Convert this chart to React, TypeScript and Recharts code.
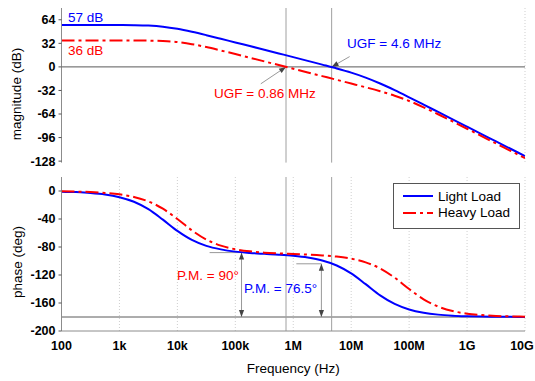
import React from 'react';
import { LineChart, Line, XAxis, YAxis, CartesianGrid, ReferenceLine, Legend } from 'recharts';

// frequency points, quarter decade apart (Hz)
const freqHz = [
  100, 177.8, 316.2, 562.3,
  1e3, 1778, 3162, 5623,
  1e4, 17783, 31623, 56234,
  1e5, 177828, 316228, 562341,
  1e6, 1.778e6, 3.162e6, 5.623e6,
  1e7, 1.778e7, 3.162e7, 5.623e7,
  1e8, 1.778e8, 3.162e8, 5.623e8,
  1e9, 1.778e9, 3.162e9, 5.623e9,
  1e10,
];

// values
const lightMagDb = [
  57.0, 57.0, 57.0, 57.0, 56.9, 56.7, 56.1, 54.6, 51.7, 47.7, 43.1, 38.2, 33.2, 28.3, 23.3, 18.3,
  13.3, 8.2, 3.1, -2.1, -7.8, -14.5, -22.5, -31.6, -41.3, -51.2, -61.2, -71.2, -81.2, -91.2, -101.2, -111.2, -121.2,
];
const heavyMagDb = [
  36.0, 36.0, 36.0, 36.0, 36.0, 35.9, 35.7, 35.1, 33.7, 30.9, 26.9, 22.3, 17.5, 12.5, 7.5, 2.5,
  -2.5, -7.5, -12.5, -17.5, -22.6, -27.7, -33.1, -39.1, -46.3, -54.9, -64.3, -74.1, -84.0, -94.0, -104.0, -114.0, -124.0,
];
const lightPhaseDeg = [
  -0.9, -1.6, -2.8, -4.9, -8.8, -15.3, -25.9, -40.9, -57.0, -69.9, -78.4, -83.4, -86.6, -88.5, -89.8, -91.0,
  -92.6, -95.1, -99.3, -106.4, -117.7, -133.1, -149.0, -161.3, -169.2, -173.9, -176.6, -178.1, -178.9, -179.4, -179.7, -179.8, -179.9,
];
const heavyPhaseDeg = [
  -0.5, -0.9, -1.5, -2.7, -4.8, -8.5, -14.9, -25.3, -40.0, -56.2, -69.4, -78.1, -83.2, -86.2, -88.1, -89.2,
  -90.0, -90.8, -92.0, -93.7, -96.7, -101.9, -110.6, -123.8, -140.0, -154.7, -165.1, -171.5, -175.2, -177.3, -178.5, -179.1, -179.5,
];

const seriesNames = ['Light Load', 'Heavy Load'];
const decadeTicks = [1e2, 1e3, 1e4, 1e5, 1e6, 1e7, 1e8, 1e9, 1e10];
const decadeLabels = ['100', '1k', '10k', '100k', '1M', '10M', '100M', '1G', '10G'];
const minorTicks = decadeTicks.slice(0, -1).flatMap((d) => [2, 3, 4, 5, 6, 7, 8, 9].map((m) => d * m));
const magTicks = [64, 32, 0, -32, -64, -96, -128];
const magMinor = [48, 16, -16, -48, -80, -112];
const phaseTicks = [0, -40, -80, -120, -160, -200];
const phaseMinor = [-20, -60, -100, -140, -180];

const ugfLight = 4.6e6;
const ugfHeavy = 7.5e5;

const data = freqHz.map((f, i) => ({
  f,
  lightMag: lightMagDb[i],
  heavyMag: heavyMagDb[i],
  lightPhase: lightPhaseDeg[i],
  heavyPhase: heavyPhaseDeg[i],
}));

const BLUE = '#0000ff';
const RED = '#ff0000';
const AXIS = '#8c8c8c';
const TICK = '#555';
const ZERO = '#5a5a5a';
const GUIDE = '#a0a0a0';
const GRID = '#cfcfcf';
const FONT = '"Liberation Sans", Arial, sans-serif';
const RED_DASH = '13 4 3 4';

const tickStyle = { fontSize: 12.5, fontWeight: 'bold', fill: '#000', fontFamily: FONT };

// bottom tick labels; last one nudged in so it stays on the page
const FreqTick = (props: any) => {
  const { x, y, payload } = props;
  const i = decadeTicks.indexOf(payload.value);
  if (i < 0) return null;
  const last = i === decadeTicks.length - 1;
  return (
    <text x={x} y={y} dy="0.71em" dx={last ? -3 : 0} textAnchor="middle" {...tickStyle}>
      {decadeLabels[i]}
    </text>
  );
};

// arrow drawn along a reference segment
const arrowShape = (both: boolean) => (p: any) => {
  const { x1, y1, x2, y2 } = p;
  const len = Math.hypot(x2 - x1, y2 - y1) || 1;
  const ux = (x2 - x1) / len;
  const uy = (y2 - y1) / len;
  const head = (x: number, y: number, sx: number, sy: number) => {
    const L = 7, H = 2.6;
    const bx = x - sx * L, by = y - sy * L;
    return `${x},${y} ${bx - sy * H},${by + sx * H} ${bx + sy * H},${by - sx * H}`;
  };
  return (
    <g>
      <line x1={x1} y1={y1} x2={x2} y2={y2} stroke="#999" strokeWidth={1} />
      <polygon points={head(x2, y2, ux, uy)} fill="#444" />
      {both && <polygon points={head(x1, y1, -ux, -uy)} fill="#444" />}
    </g>
  );
};

// inward ticks on top and bottom frame
function frameAxes() {
  const common: any = {
    dataKey: 'f', type: 'number', scale: 'log', domain: [1e2, 1e10], allowDataOverflow: true,
    mirror: true, height: 0, tick: false, axisLine: false, tickLine: { stroke: TICK },
  };
  return [
    <XAxis key="tM" {...common} xAxisId="tM" orientation="top" ticks={decadeTicks} tickSize={5} axisLine={{ stroke: AXIS }} />,
    <XAxis key="tm" {...common} xAxisId="tm" orientation="top" ticks={minorTicks} tickSize={2.5} />,
    <XAxis key="bM" {...common} xAxisId="bM" orientation="bottom" ticks={decadeTicks} tickSize={5} />,
    <XAxis key="bm" {...common} xAxisId="bm" orientation="bottom" ticks={minorTicks} tickSize={2.5} />,
  ];
}

const legendContent = (props: any) => {
  const items = [...(props.payload || [])].sort((a: any, b: any) => seriesNames.indexOf(a.value) - seriesNames.indexOf(b.value));
  return (
    <div style={{ border: '1px solid #555', background: '#fff', width: 125, height: 40, paddingTop: 4, boxSizing: 'content-box', fontFamily: FONT, fontSize: 13.5 }}>
      {items.map((e: any) => (
        <div key={e.value} style={{ display: 'flex', alignItems: 'center', height: 16.6 }}>
          <svg width={44} height={8} style={{ flex: 'none' }}>
            <line x1={9} y1={4} x2={39} y2={4} stroke={e.color} strokeWidth={2} strokeDasharray={e.payload?.strokeDasharray} />
          </svg>
          <span style={{ color: '#000' }}>{e.value}</span>
        </div>
      ))}
    </div>
  );
};

const textBase = { fontFamily: FONT, fontSize: 13.5, dominantBaseline: 'central' as const };

export default function App() {
  return (
    <div style={{ position: 'absolute', left: 0, top: 0, width: 535, height: 381, background: '#fff' }}>
      <LineChart width={535} height={170} data={data} margin={{ top: 8, right: 10, bottom: 7.4, left: 0 }}>
        <CartesianGrid horizontal={false} stroke={GRID} strokeDasharray="1 2" />
        {frameAxes()}
        <YAxis yAxisId="minor" mirror width={0} type="number" domain={[-130, 80]} allowDataOverflow ticks={magMinor} tickSize={2} tick={false} axisLine={false} tickLine={{ stroke: TICK }} />
        <XAxis dataKey="f" type="number" scale="log" domain={[1e2, 1e10]} allowDataOverflow ticks={decadeTicks} height={0} tick={false} tickLine={false} axisLine={{ stroke: AXIS }} />
        <YAxis type="number" domain={[-130, 80]} allowDataOverflow ticks={magTicks} interval={0} width={61.5} tickSize={3} tickMargin={3} tick={tickStyle} axisLine={{ stroke: AXIS }} tickLine={{ stroke: TICK }} />
        <ReferenceLine y={0} stroke={ZERO} />
        <ReferenceLine x={ugfHeavy} stroke={GUIDE} />
        <ReferenceLine x={ugfLight} stroke={GUIDE} />
        <ReferenceLine segment={[{ x: 9.4e6, y: 14 }, { x: ugfLight, y: 0 }]} shape={arrowShape(false)} />
        <ReferenceLine segment={[{ x: 2.75e5, y: -23 }, { x: ugfHeavy, y: 0 }]} shape={arrowShape(false)} />
        <Line dataKey="lightMag" name={seriesNames[0]} type="monotone" stroke={BLUE} strokeWidth={2} dot={false} isAnimationActive={false} />
        <Line dataKey="heavyMag" name={seriesNames[1]} type="monotone" stroke={RED} strokeWidth={2} strokeDasharray={RED_DASH} dot={false} isAnimationActive={false} />
      </LineChart>

      <LineChart width={535} height={211} data={data} margin={{ top: 7, right: 10, bottom: 0, left: 0 }}>
        <CartesianGrid horizontal={false} stroke={GRID} strokeDasharray="1 2" />
        {frameAxes()}
        <YAxis yAxisId="minor" mirror width={0} type="number" domain={[-200, 20]} allowDataOverflow ticks={phaseMinor} tickSize={2} tick={false} axisLine={false} tickLine={{ stroke: TICK }} />
        <XAxis dataKey="f" type="number" scale="log" domain={[1e2, 1e10]} allowDataOverflow ticks={decadeTicks} interval={0} height={50} tick={<FreqTick />} tickLine={false} tickMargin={4} axisLine={{ stroke: AXIS }}
          label={{ value: 'Frequency (Hz)', position: 'insideBottom', offset: 8, style: { fontFamily: FONT, fontSize: 13.5, fill: '#000' } }} />
        <YAxis type="number" domain={[-200, 20]} allowDataOverflow ticks={phaseTicks} interval={0} width={61.5} tickSize={3} tickMargin={3} tick={tickStyle} axisLine={{ stroke: AXIS }} tickLine={{ stroke: TICK }} />
        <ReferenceLine y={-180} stroke={ZERO} />
        <ReferenceLine x={ugfHeavy} stroke={GUIDE} />
        <ReferenceLine x={ugfLight} stroke={GUIDE} />
        <ReferenceLine segment={[{ x: 3.6e4, y: -88 }, { x: 1.28e5, y: -88 }]} stroke="#999" />
        <ReferenceLine segment={[{ x: 1.28e5, y: -88 }, { x: 1.28e5, y: -180 }]} shape={arrowShape(true)} />
        <ReferenceLine segment={[{ x: 1.13e6, y: -104 }, { x: 3.06e6, y: -104 }]} stroke="#999" />
        <ReferenceLine segment={[{ x: 3.06e6, y: -104 }, { x: 3.06e6, y: -180 }]} shape={arrowShape(true)} />
        <Legend verticalAlign="middle" align="center" layout="horizontal" content={legendContent} wrapperStyle={{ left: 393, top: 13, width: 'auto' }} />
        <Line dataKey="lightPhase" name={seriesNames[0]} type="monotone" stroke={BLUE} strokeWidth={2} dot={false} isAnimationActive={false} />
        <Line dataKey="heavyPhase" name={seriesNames[1]} type="monotone" stroke={RED} strokeWidth={2} strokeDasharray={RED_DASH} dot={false} isAnimationActive={false} />
      </LineChart>

      <svg width={535} height={381} style={{ position: 'absolute', left: 0, top: 0, pointerEvents: 'none' }}>
        <text {...textBase} x={68} y={17} fill={BLUE}>57 dB</text>
        <text {...textBase} x={68} y={50} fill={RED}>36 dB</text>
        <text {...textBase} x={347} y={43} fill={BLUE}>UGF = 4.6 MHz</text>
        <text {...textBase} x={214} y={93} fill={RED}>UGF = 0.86 MHz</text>
        <text {...textBase} x={177} y={275} fill={RED}>P.M. = 90°</text>
        <text {...textBase} x={244} y={288} fill={BLUE}>P.M. = 76.5°</text>
        <text {...textBase} x={16} y={94} fill="#000" textAnchor="middle" transform="rotate(-90 16 94)">magnitude (dB)</text>
        <text {...textBase} x={17} y={262} fill="#000" textAnchor="middle" transform="rotate(-90 17 262)">phase (deg)</text>
      </svg>
    </div>
  );
}
